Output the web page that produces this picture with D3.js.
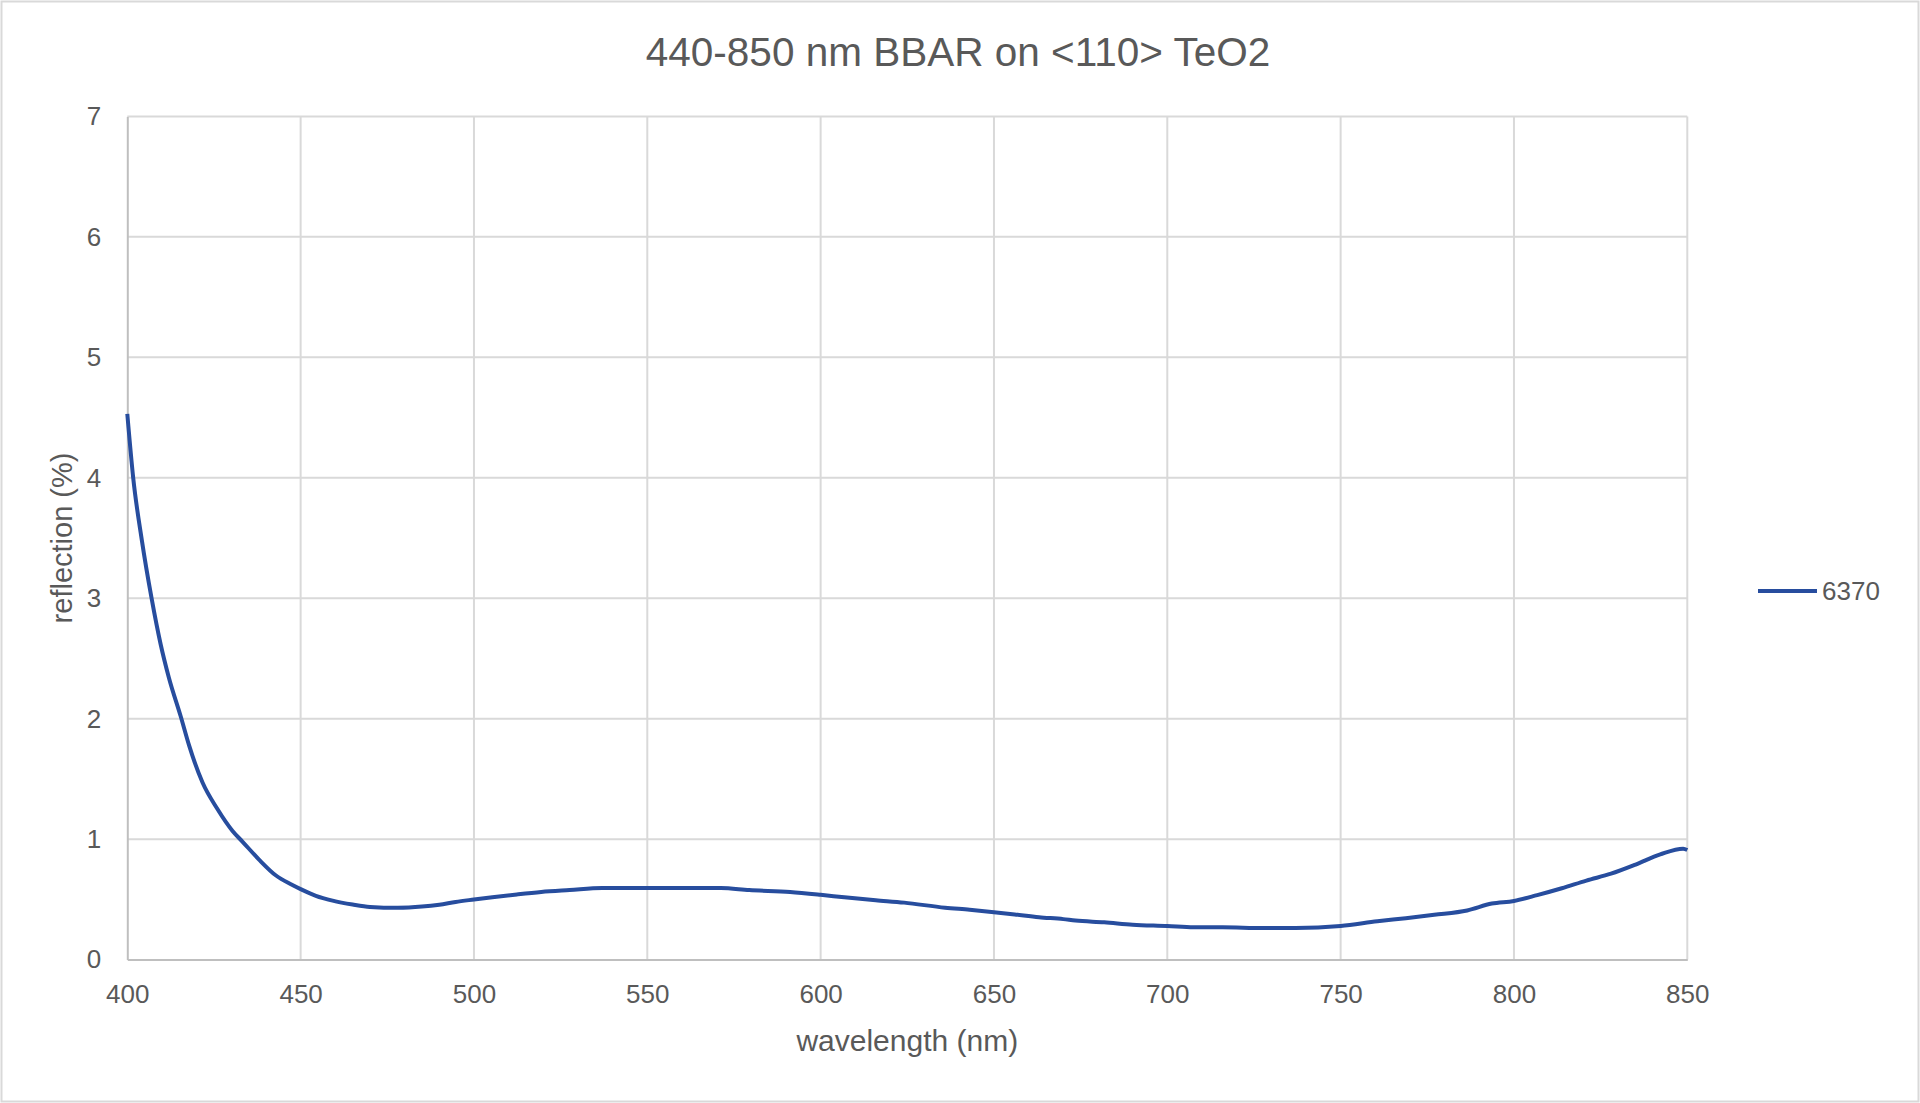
<!DOCTYPE html>
<html>
<head>
<meta charset="utf-8">
<script src="https://cdn.jsdelivr.net/npm/d3@7"></script>
<style>
    body { margin: 0; background: #fff; }
    .grid line { stroke: #d9d9d9; stroke-width: 2px; }
    .axis path, .axis line { stroke: #bfbfbf; stroke-width: 2px; }
    .axis text { fill: #595959; font-family: "Liberation Sans", Arial, sans-serif; font-size: 26px; }
    .line { fill: none; stroke: #274d9e; stroke-width: 4px; stroke-linejoin: round; }
</style>
</head>
<body>
<div id="chart"></div>
<script>
var TITLE = "440-850 nm BBAR on <110> TeO2";
var X_LABEL = "wavelength (nm)";
var Y_LABEL = "reflection (%)";
var SERIES_NAME = "6370";

var X_TICKS = [400, 450, 500, 550, 600, 650, 700, 750, 800, 850];
var Y_TICKS = [0, 1, 2, 3, 4, 5, 6, 7];

// wavelength (nm)
var wavelength = [
    400, 401.7, 404.2, 407, 409.6, 412, 415.4, 417.8, 421.7, 426,
    430.3, 433.2, 438, 442.8, 447.2, 450, 454.4, 459.2, 465, 470,
    478, 485, 490, 494.7, 500, 505.3, 512.4, 519.4, 527.6, 537,
    550, 571.2, 579.4, 591.2, 600, 607.6, 615.9, 624.1, 635.9, 643,
    650, 656, 663, 670, 673.5, 681.8, 690, 700, 707.6, 715.9,
    727.7, 737, 750, 760.6, 768.8, 777, 786.5, 793.6, 800, 806.7,
    813.8, 820.9, 828, 835.1, 842.2, 848.8, 850
];

// reflection (%)
var reflection = [
    4.53, 4.0, 3.48, 3.0, 2.62, 2.34, 2.02, 1.78, 1.47, 1.25,
    1.07, 0.98, 0.83, 0.70, 0.625, 0.585, 0.53, 0.49, 0.457, 0.437,
    0.43, 0.44, 0.456, 0.479, 0.499, 0.518, 0.541, 0.561, 0.577, 0.594,
    0.594, 0.594, 0.577, 0.561, 0.538, 0.515, 0.493, 0.473, 0.431, 0.414,
    0.394, 0.375, 0.352, 0.336, 0.324, 0.31, 0.29, 0.279, 0.268, 0.268,
    0.262, 0.262, 0.279, 0.318, 0.344, 0.372, 0.408, 0.465, 0.487, 0.535,
    0.592, 0.656, 0.713, 0.789, 0.873, 0.921, 0.91
];

function drawChart (selector) {
    var W = 1920, H = 1103;
    var margin = {top: 116.4, left: 127.3},
        width = 1560,
        height = 843.2;

    var data = wavelength.map(function (w, i) {
        return {x: w, y: reflection[i]};
    });

    var svg = d3.select(selector).append("svg")
        .attr("width", W)
        .attr("height", H);

    // outer chart border
    svg.append("rect")
        .attr("x", 1.5).attr("y", 1.5)
        .attr("width", W - 3).attr("height", H - 3)
        .attr("fill", "#fff")
        .attr("stroke", "#d9d9d9")
        .attr("stroke-width", 2);

    var g = svg.append("g")
        .attr("transform", "translate(" + margin.left + "," + margin.top + ")");

    var x = d3.scaleLinear().domain([400, 850]).range([0, width]);
    var y = d3.scaleLinear().domain([0, 7]).range([height, 0]);

    // grid lines
    g.append("g").attr("class", "grid")
        .selectAll("line").data(Y_TICKS.slice(1))
        .enter().append("line")
        .attr("x1", 0).attr("x2", width)
        .attr("y1", function (d) { return y(d); })
        .attr("y2", function (d) { return y(d); });

    g.append("g").attr("class", "grid")
        .selectAll("line").data(X_TICKS.slice(1))
        .enter().append("line")
        .attr("y1", 0).attr("y2", height)
        .attr("x1", function (d) { return x(d); })
        .attr("x2", function (d) { return x(d); });

    // axes
    g.append("g")
        .attr("class", "x axis")
        .attr("transform", "translate(0," + height + ")")
        .call(d3.axisBottom(x).tickValues(X_TICKS).tickFormat(d3.format("d"))
            .tickSize(0).tickPadding(25).tickSizeOuter(0))
        .call(function (s) { s.selectAll(".tick line").remove(); });

    g.append("g")
        .attr("class", "y axis")
        .call(d3.axisLeft(y).tickValues(Y_TICKS).tickFormat(d3.format("d"))
            .tickSize(0).tickPadding(26).tickSizeOuter(0))
        .call(function (s) { s.selectAll(".tick line").remove(); });

    // the data line
    var valueline = d3.line()
        .curve(d3.curveMonotoneX)
        .x(function (d) { return x(d.x); })
        .y(function (d) { return y(d.y); });

    g.append("path")
        .datum(data)
        .attr("class", "line")
        .attr("d", valueline);

    // title and axis titles
    svg.append("text")
        .attr("x", 958).attr("y", 66)
        .attr("text-anchor", "middle")
        .attr("fill", "#595959")
        .style("font-family", "'Liberation Sans', Arial, sans-serif")
        .style("font-size", "40.5px")
        .text(TITLE);

    svg.append("text")
        .attr("x", margin.left + width / 2).attr("y", 1051)
        .attr("text-anchor", "middle")
        .attr("fill", "#595959")
        .style("font-family", "'Liberation Sans', Arial, sans-serif")
        .style("font-size", "30px")
        .text(X_LABEL);

    svg.append("text")
        .attr("transform", "translate(62," + (margin.top + height / 2) + ") rotate(-90)")
        .attr("text-anchor", "middle")
        .attr("dy", "0.35em")
        .attr("fill", "#595959")
        .style("font-family", "'Liberation Sans', Arial, sans-serif")
        .style("font-size", "29px")
        .text(Y_LABEL);

    // legend
    var legend = svg.append("g").attr("transform", "translate(1758,591)");
    legend.append("line")
        .attr("x1", 0).attr("x2", 59)
        .attr("stroke", "#274d9e")
        .attr("stroke-width", 4);
    legend.append("text")
        .attr("x", 64).attr("dy", "0.35em")
        .attr("fill", "#595959")
        .style("font-family", "'Liberation Sans', Arial, sans-serif")
        .style("font-size", "26px")
        .text(SERIES_NAME);
}

drawChart("#chart");
</script>
</body>
</html>
